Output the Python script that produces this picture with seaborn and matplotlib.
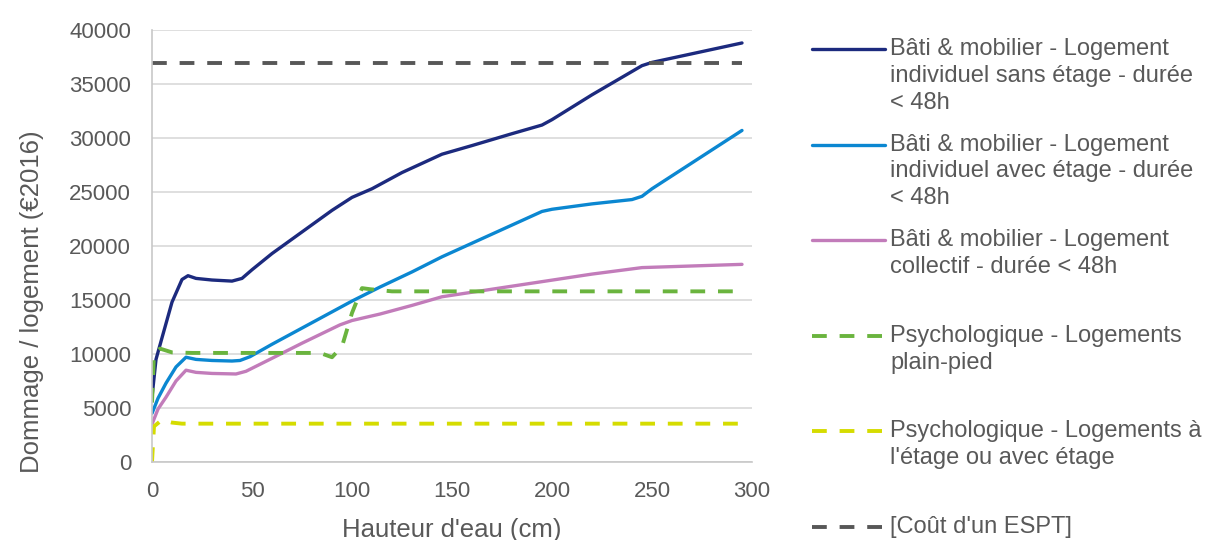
import matplotlib
matplotlib.use('Agg')
import matplotlib.pyplot as plt
from matplotlib.lines import Line2D
import seaborn as sns

# valeurs (hauteur d'eau en cm, dommage en €2016)
x_sans = [0, 2, 5, 10, 15, 18, 22, 30, 40, 45, 50, 60, 75, 90, 100, 110, 125, 145, 160, 180, 195, 200, 220, 245, 250, 270, 295]
y_sans = [6000, 9500, 11500, 14800, 16900, 17250, 17000, 16850, 16750, 17000, 17800, 19300, 21300, 23300, 24500, 25300, 26800, 28500, 29300, 30400, 31200, 31700, 34000, 36700, 37000, 37800, 38800]

x_avec = [0, 3, 7, 12, 17, 22, 30, 40, 44, 49, 60, 75, 90, 100, 114, 130, 145, 170, 195, 200, 220, 240, 245, 250, 270, 295]
y_avec = [4500, 5900, 7300, 8800, 9700, 9500, 9400, 9350, 9400, 9750, 10900, 12400, 13900, 14900, 16200, 17600, 19000, 21100, 23200, 23400, 23900, 24300, 24600, 25300, 27700, 30700]

x_coll = [0, 3, 7, 12, 17, 22, 30, 42, 47, 60, 75, 94, 100, 114, 130, 145, 170, 195, 220, 245, 270, 295]
y_coll = [3500, 4900, 6000, 7500, 8500, 8300, 8200, 8150, 8400, 9600, 11000, 12700, 13100, 13700, 14500, 15300, 16000, 16700, 17400, 18000, 18150, 18300]

x_psy_pp = [0, 1, 4, 10, 20, 50, 84, 90, 95, 100, 105, 109, 120, 150, 200, 250, 295]
y_psy_pp = [5500, 10000, 10500, 10150, 10100, 10100, 10100, 9700, 10700, 13800, 16100, 16000, 15800, 15800, 15800, 15800, 15800]

x_psy_et = [0, 1, 5, 10, 15, 50, 100, 150, 200, 250, 295]
y_psy_et = [0, 3300, 3900, 3650, 3550, 3550, 3550, 3550, 3550, 3550, 3550]

x_espt = [0, 295]
y_espt = [36900, 36900]

labels = [
    "Bâti & mobilier - Logement\nindividuel sans étage - durée\n< 48h",
    "Bâti & mobilier - Logement\nindividuel avec étage - durée\n< 48h",
    "Bâti & mobilier - Logement\ncollectif - durée < 48h",
    "Psychologique - Logements\nplain-pied",
    "Psychologique - Logements à\nl'étage ou avec étage",
    "[Coût d'un ESPT]",
]
colors = ['#1c2a7e', '#0b87d1', '#c27cba', '#6ab43e', '#d5dc00', '#575757']
styles = ['-', '-', '-', '--', '--', '--']
series = [(x_sans, y_sans), (x_avec, y_avec), (x_coll, y_coll),
          (x_psy_pp, y_psy_pp), (x_psy_et, y_psy_et), (x_espt, y_espt)]

sns.set_style('white')
plt.rcParams['font.family'] = ['Liberation Sans', 'DejaVu Sans']
grey_txt = '#595959'
dash = (0, (3.8, 3.3))

fig = plt.figure(figsize=(12.08, 5.4), dpi=100)
ax = fig.add_axes([152/1208, 1 - 462/540, 600/1208, 432/540])

for (xs, ys), c, ls in zip(series, colors, styles):
    if ls == '-':
        sns.lineplot(x=xs, y=ys, ax=ax, color=c, linewidth=2.4)
    else:
        sns.lineplot(x=xs, y=ys, ax=ax, color=c, linewidth=2.8, linestyle=dash)

ax.set_xlim(0, 300)
ax.set_ylim(0, 40000)
ax.set_xticks(range(0, 301, 50))
ax.set_yticks(range(0, 40001, 5000))
ax.yaxis.grid(True, color='#d9d9d9', linewidth=1.2)
ax.set_axisbelow(True)
for s in ['top', 'right']:
    ax.spines[s].set_visible(False)
for s in ['left', 'bottom']:
    ax.spines[s].set_color('#c8c8c8')
    ax.spines[s].set_linewidth(1.2)
ax.tick_params(axis='x', direction='out', length=5, width=1.2, color='#c8c8c8',
               labelsize=16, labelcolor=grey_txt, pad=9)
ax.tick_params(axis='y', length=0, labelsize=16, labelcolor=grey_txt, pad=15)
ax.set_xlabel("Hauteur d'eau (cm)", fontsize=18.5, color=grey_txt, labelpad=11)
ax.set_ylabel("Dommage / logement (€2016)", fontsize=18.5, color=grey_txt)
ax.yaxis.set_label_coords(-0.18, 0.37)

# légende à droite, entrées régulièrement espacées
step = 95.6 / 540
y0 = 1 - 49 / 540
for i, (lab, c, ls) in enumerate(zip(labels, colors, styles)):
    yy = y0 - i * step
    lw = 2.4 if ls == '-' else 2.8
    fig.add_artist(Line2D([812/1208, 885/1208], [yy, yy], transform=fig.transFigure,
                          color=c, linewidth=lw, linestyle='-' if ls == '-' else dash))
    fig.text(890/1208, yy + 11/540, lab, fontsize=17, color=grey_txt,
             va='top', ha='left', linespacing=1.28)

fig.savefig('out.png', dpi=100)
